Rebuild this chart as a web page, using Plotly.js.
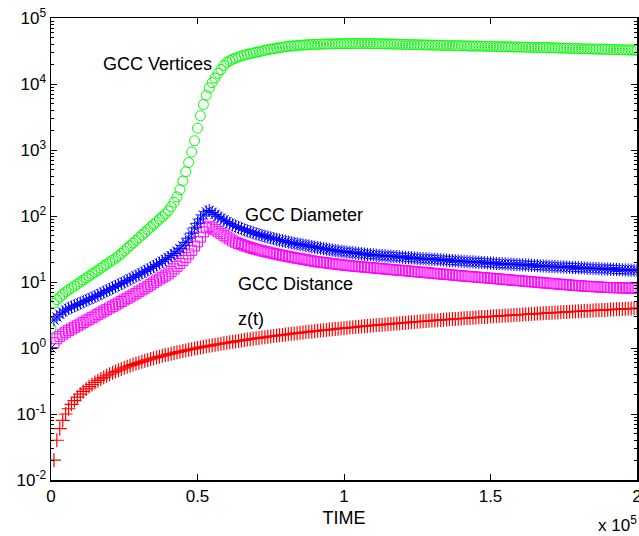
<!DOCTYPE html>
<html>
<head>
<meta charset="utf-8">
<script src="https://cdn.plot.ly/plotly-3.0.1.min.js"></script>
<style>html,body{margin:0;padding:0;background:#fff;}#chart{width:639px;height:536px;}</style>
</head>
<body>
<div id="chart"></div>
<script>
// TIME in thousands (axis shows units of 10^5)
var timeK = [0,1,2,3,4,5,6,7,8,9,10,11,12,13,14,15,16,17,18,19,20,21,22,23,24,25,26,27,28,29,30,31,32,33,34,35,36,37,38,39,40,
41,42,43,44,45,46,47,48,49,50,51,52,53,54,55,56,57,58,59,60,61,62,63,64,65,66,67,68,69,70,71,72,73,74,75,76,77,78,79,80,
81,82,83,84,85,86,87,88,89,90,91,92,93,94,95,96,97,98,99,100,101,102,103,104,105,106,107,108,109,110,111,112,113,114,115,116,117,118,119,120,
121,122,123,124,125,126,127,128,129,130,131,132,133,134,135,136,137,138,139,140,141,142,143,144,145,146,147,148,149,150,151,152,153,154,155,156,157,158,159,160,
161,162,163,164,165,166,167,168,169,170,171,172,173,174,175,176,177,178,179,180,181,182,183,184,185,186,187,188,189,190,191,192,193,194,195,196,197,198,199,200];

var gccVertices = [2.0,
4.8,5.4,5.9,6.5,7.1,7.6,8.1,8.7,9.3,10.0,
10.7,11.5,12.3,13.2,14.1,15.1,16.2,17.4,18.6,20.0,
21.4,22.9,24.7,26.9,29.5,32.4,35.5,38.9,42.7,46.8,
51.3,56.2,61.7,67.6,74.1,81.3,89.1,97.7,107,120,
138,162,195,251,339,468,646,933,1380,2140,
3310,4900,6760,8710,10500,12300,14500,16600,19100,21400,
22600,23700,24700,25700,26600,27400,28200,28800,29500,30200,
30900,31600,32400,33100,33700,34300,34800,35500,36100,36700,
37200,37600,37950,38300,38600,38900,39150,39400,39600,39800,
39950,40100,40250,40400,40500,40600,40700,40800,40850,40900,
40950,41000,41000,41050,41050,41050,41000,41000,40950,40900,
40850,40750,40650,40550,40450,40350,40200,40100,39950,39800,
39700,39600,39500,39400,39300,39200,39100,39000,38950,38900,
38800,38700,38600,38500,38400,38300,38250,38200,38100,38000,
37900,37800,37700,37600,37550,37500,37400,37300,37200,37150,
37050,36950,36850,36750,36650,36600,36500,36450,36400,36300,
36200,36100,36000,35950,35850,35800,35700,35650,35550,35500,
35400,35250,35150,35000,34900,34800,34700,34600,34450,34300,
34200,34100,34000,33950,33850,33800,33700,33650,33550,33500,
33400,33300,33200,33100,33000,32900,32800,32700,32550,32400];

var gccDiameter = [1.0,
2.66,2.95,3.24,3.51,3.76,3.98,4.17,4.37,4.57,4.79,
5.01,5.25,5.50,5.75,6.03,6.31,6.65,7.0,7.36,7.74,
8.15,8.57,9.02,9.48,10.0,10.5,11.1,11.7,12.3,13.0,
13.7,14.5,15.3,16.2,17.2,18.2,19.3,20.5,21.9,23.4,
25.1,27.0,29.3,32.0,35.5,39.8,46.2,55.0,66.1,77.6,
90.2,103.5,116,121,113.5,105.9,98.9,92.7,87.1,81.8,
77.3,73.3,70.0,67.0,64.3,61.8,59.6,57.5,55.6,53.8,
52.1,50.6,49.2,47.9,46.6,45.4,44.3,43.2,42.2,41.2,
40.3,39.4,38.6,37.8,37.1,36.4,35.7,35.1,34.4,33.8,
33.2,32.6,32.0,31.5,31.0,30.5,30.0,29.5,29.1,28.7,
28.4,28.0,27.7,27.4,27.1,26.8,26.5,26.2,26.0,25.7,
25.5,25.3,25.1,24.9,24.7,24.5,24.3,24.2,24.0,23.8,
23.6,23.4,23.3,23.1,22.9,22.7,22.6,22.4,22.3,22.1,
22.0,21.8,21.7,21.5,21.4,21.2,21.1,20.9,20.8,20.6,
20.5,20.4,20.2,20.1,20.0,19.9,19.7,19.6,19.5,19.4,
19.3,19.1,19.0,18.9,18.8,18.7,18.6,18.5,18.4,18.3,
18.2,18.1,18.0,17.9,17.8,17.7,17.6,17.5,17.4,17.3,
17.2,17.1,17.0,16.95,16.9,16.8,16.7,16.6,16.5,16.45,
16.4,16.3,16.2,16.1,16.05,16.0,15.9,15.8,15.75,15.7,
15.6,15.5,15.45,15.4,15.3,15.25,15.2,15.1,15.05,15.0];

var gccDistance = [null,
1.2,1.38,1.5,1.62,1.73,1.83,1.94,2.06,2.17,2.30,
2.43,2.58,2.72,2.88,3.05,3.23,3.41,3.61,3.82,4.04,
4.27,4.52,4.78,5.06,5.35,5.66,5.98,6.34,6.73,7.14,
7.59,8.05,8.57,9.12,9.73,10.4,11.1,11.8,12.4,13.3,
14.5,15.8,17.3,19.1,21.1,23.6,26.6,30.2,35.1,40.7,
47.9,57.5,66,70,66,62,58,54.5,51,48,
45,42,40,38.3,36.8,35.5,34.3,33.2,32.2,31.3,
30.5,29.7,29.0,28.3,27.6,27.0,26.4,25.8,25.3,24.8,
24.3,23.8,23.3,22.9,22.5,22.1,21.7,21.3,20.9,20.5,
20.2,19.95,19.7,19.45,19.2,18.95,18.7,18.5,18.25,18.05,
17.85,17.65,17.45,17.3,17.1,16.95,16.8,16.65,16.5,16.35,
16.2,16.05,15.9,15.75,15.6,15.45,15.3,15.2,15.05,14.9,
14.8,14.65,14.5,14.4,14.25,14.1,14.0,13.85,13.75,13.6,
13.5,13.35,13.25,13.1,13.0,12.9,12.75,12.65,12.55,12.4,
12.3,12.2,12.1,12.0,11.9,11.8,11.7,11.6,11.5,11.4,
11.3,11.2,11.1,11.0,10.9,10.8,10.7,10.6,10.5,10.45,
10.35,10.25,10.15,10.05,10.0,9.9,9.8,9.7,9.65,9.55,
9.5,9.4,9.3,9.25,9.15,9.1,9.0,8.95,8.85,8.8,
8.75,8.65,8.6,8.55,8.5,8.45,8.4,8.35,8.3,8.25,
8.25,8.2,8.2,8.15,8.15,8.1,8.1,8.05,8.05,8.0];

var zt = [null,
0.02,0.04,0.06,0.08,0.10,0.12,0.14,0.16,0.18,0.20,
0.22,0.24,0.26,0.28,0.30,0.32,0.34,0.36,0.38,0.40,
0.42,0.44,0.46,0.48,0.50,0.52,0.54,0.56,0.58,0.60,
0.62,0.64,0.66,0.68,0.70,0.72,0.74,0.76,0.78,0.80,
0.82,0.84,0.86,0.88,0.90,0.92,0.94,0.96,0.98,1.00,
1.02,1.04,1.06,1.08,1.10,1.12,1.14,1.16,1.18,1.20,
1.22,1.24,1.26,1.28,1.30,1.32,1.34,1.36,1.38,1.40,
1.42,1.44,1.46,1.48,1.50,1.52,1.54,1.56,1.58,1.60,
1.62,1.64,1.66,1.68,1.70,1.72,1.74,1.76,1.78,1.80,
1.82,1.84,1.86,1.88,1.90,1.92,1.94,1.96,1.98,2.00,
2.02,2.04,2.06,2.08,2.10,2.12,2.14,2.16,2.18,2.20,
2.22,2.24,2.26,2.28,2.30,2.32,2.34,2.36,2.38,2.40,
2.42,2.44,2.46,2.48,2.50,2.52,2.54,2.56,2.58,2.60,
2.62,2.64,2.66,2.68,2.70,2.72,2.74,2.76,2.78,2.80,
2.82,2.84,2.86,2.88,2.90,2.92,2.94,2.96,2.98,3.00,
3.02,3.04,3.06,3.08,3.10,3.12,3.14,3.16,3.18,3.20,
3.22,3.24,3.26,3.28,3.30,3.32,3.34,3.36,3.38,3.40,
3.42,3.44,3.46,3.48,3.50,3.52,3.54,3.56,3.58,3.60,
3.62,3.64,3.66,3.68,3.70,3.72,3.74,3.76,3.78,3.80,
3.82,3.84,3.86,3.88,3.90,3.92,3.94,3.96,3.98,4.00];

var xTickVals = [0, 50, 100, 150, 200];
var xTickText = ['0', '0.5', '1', '1.5', '2'];
var yTickVals = [0.01, 0.1, 1, 10, 100, 1000, 10000, 100000];
var yTickText = ['10<sup>-2</sup>','10<sup>-1</sup>','10<sup>0</sup>','10<sup>1</sup>','10<sup>2</sup>','10<sup>3</sup>','10<sup>4</sup>','10<sup>5</sup>'];

var FONT = 'Liberation Sans, Arial, Helvetica, sans-serif';

var traces = [
  {x: timeK, y: gccVertices, type: 'scatter', mode: 'markers', name: 'GCC Vertices',
   marker: {symbol: 'circle-open', size: 10, color: 'rgb(0,255,0)', line: {width: 1, color: 'rgb(0,255,0)'}}},
  {x: timeK, y: gccDistance, type: 'scatter', mode: 'markers', name: 'GCC Distance',
   marker: {symbol: 'square-open', size: 10, color: 'rgb(255,0,255)', line: {width: 1, color: 'rgb(255,0,255)'}}},
  {x: timeK, y: gccDiameter, type: 'scatter', mode: 'markers', name: 'GCC Diameter',
   marker: {symbol: 'asterisk-open', size: 11, color: 'rgb(0,0,255)', line: {width: 1, color: 'rgb(0,0,255)'}}},
  {x: timeK, y: zt, type: 'scatter', mode: 'markers', name: 'z(t)',
   marker: {symbol: 'cross-thin-open', size: 10, color: 'rgb(255,0,0)', line: {width: 1.2, color: 'rgb(255,0,0)'}}}
];

var axisCommon = {
  ticks: 'inside', ticklen: 6, tickwidth: 1, tickcolor: '#000',
  showline: true, linecolor: '#000', linewidth: 1.5,
  showgrid: false, zeroline: false,
  tickfont: {family: FONT, size: 17, color: '#000'}
};

var layout = {
  width: 639, height: 536,
  margin: {l: 51, r: 2, t: 18, b: 56},
  paper_bgcolor: '#fff', plot_bgcolor: '#fff',
  showlegend: false,
  font: {family: FONT, size: 17, color: '#000'},
  xaxis: Object.assign({}, axisCommon, {
    range: [0, 200], tickmode: 'array', tickvals: xTickVals, ticktext: xTickText,
    mirror: 'ticks', ticklabeloverflow: 'allow',
    title: {text: 'TIME', font: {family: FONT, size: 18, color: '#000'}, standoff: 6}
  }),
  yaxis: Object.assign({}, axisCommon, {
    type: 'log', range: [-2, 5], tickmode: 'array', tickvals: yTickVals, ticktext: yTickText,
    mirror: 'ticks', ticklabeloverflow: 'allow',
    minor: {ticks: 'inside', ticklen: 3, dtick: 'D1', tickcolor: '#000', showgrid: false}
  }),
  yaxis2: Object.assign({}, axisCommon, {
    type: 'log', range: [-2, 5], overlaying: 'y', side: 'right', anchor: 'x',
    tickmode: 'array', tickvals: yTickVals, showticklabels: false,
    minor: {ticks: 'inside', ticklen: 3, dtick: 'D1', tickcolor: '#000', showgrid: false}
  }),
  annotations: [
    {text: 'GCC Vertices', x: 36.2, y: 4.30, xref: 'x', yref: 'y', showarrow: false, font: {family: FONT, size: 18, color: '#000'}},
    {text: 'GCC Diameter', x: 86.3, y: 2.01, xref: 'x', yref: 'y', showarrow: false, font: {family: FONT, size: 18, color: '#000'}},
    {text: 'GCC Distance', x: 83.5, y: 0.97, xref: 'x', yref: 'y', showarrow: false, font: {family: FONT, size: 18, color: '#000'}},
    {text: 'z(t)', x: 68.1, y: 0.44, xref: 'x', yref: 'y', showarrow: false, font: {family: FONT, size: 18, color: '#000'}},
    {text: 'x 10<sup>5</sup>', x: 1.004, y: -0.095, xref: 'paper', yref: 'paper', xanchor: 'right', yanchor: 'middle', showarrow: false, font: {family: FONT, size: 17, color: '#000'}}
  ]
};

// empty helper trace so the right-hand mirrored log axis (ticks only) is drawn
traces.push({x: [], y: [], yaxis: 'y2', type: 'scatter', mode: 'markers', showlegend: false, hoverinfo: 'skip'});

Plotly.newPlot('chart', traces, layout, {displayModeBar: false, staticPlot: true});
</script>
</body>
</html>
